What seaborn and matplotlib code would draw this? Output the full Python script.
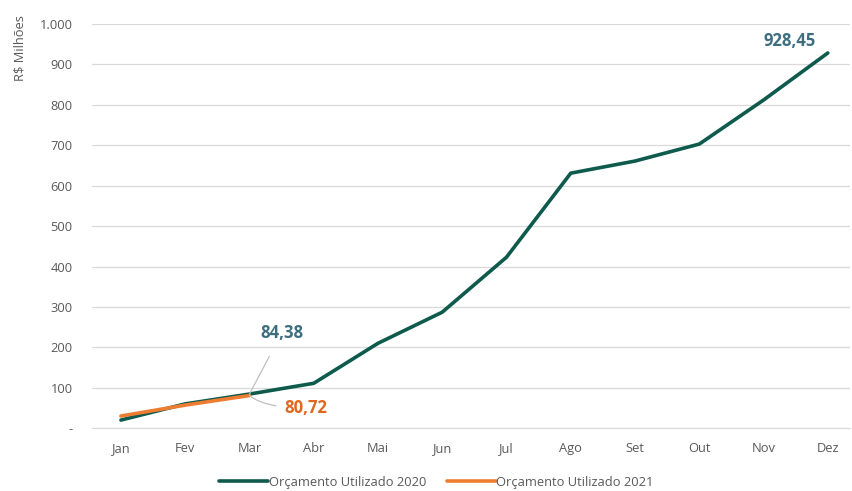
import matplotlib.pyplot as plt
import matplotlib.ticker as mticker
import seaborn as sns
import pandas as pd

meses = ["Jan", "Fev", "Mar", "Abr", "Mai", "Jun", "Jul", "Ago", "Set", "Out", "Nov", "Dez"]
orcamento_2020 = [20, 60, 84.38, 111, 210, 287, 423, 631, 661, 703, 812, 928.45]
meses_2021 = ["Jan", "Fev", "Mar"]
orcamento_2021 = [30, 57, 80.72]

verde = "#0E5A4D"
laranja = "#EE7D31"

sns.set_style("white")
plt.rcParams["font.family"] = ["Open Sans", "DejaVu Sans"]

df20 = pd.DataFrame({"mes": meses, "valor": orcamento_2020})
df21 = pd.DataFrame({"mes": meses_2021, "valor": orcamento_2021})

fig, ax = plt.subplots(figsize=(8.52, 4.91), dpi=100)
fig.subplots_adjust(left=0.108, right=0.998, top=0.951, bottom=0.128)

sns.lineplot(data=df20, x="mes", y="valor", color=verde, linewidth=2.6,
             label="Orçamento Utilizado 2020", ax=ax, sort=False)
sns.lineplot(data=df21, x="mes", y="valor", color=laranja, linewidth=2.6,
             label="Orçamento Utilizado 2021", ax=ax, sort=False)

ax.set_ylim(0, 1000)
ax.set_xlim(-0.45, 11.35)
ax.yaxis.set_major_locator(mticker.MultipleLocator(100))
ax.yaxis.set_major_formatter(mticker.FuncFormatter(
    lambda v, p: "-" if v == 0 else f"{v:,.0f}".replace(",", ".")))
ax.grid(axis="y", color="#D9D9D9", linewidth=0.9)
ax.set_axisbelow(True)
for s in ["top", "right", "left"]:
    ax.spines[s].set_visible(False)
ax.spines["bottom"].set_color("#D9D9D9")
ax.tick_params(axis="both", length=0, labelsize=9.3, colors="#595959")
ax.tick_params(axis="x", pad=10)
ax.tick_params(axis="y", pad=14)
ax.set_xlabel("")
ax.set_ylabel("R$ Milhões", fontsize=9.3, color="#595959")
ax.yaxis.set_label_coords(-0.095, 0.94)
ax.yaxis.label.set_va("center")

# rotulos de dados
ax.annotate("84,38", xy=(2, orcamento_2020[2]), xytext=(2.5, 235),
            fontsize=12, fontweight="bold", color="#3D6E80", ha="center", va="center",
            arrowprops=dict(arrowstyle="-", color="#BFBFBF", lw=0.9, shrinkB=0,
                            shrinkA=9))
ax.annotate("80,72", xy=(2, orcamento_2021[2]), xytext=(2.55, 50),
            fontsize=12, fontweight="bold", color="#E0671F", ha="left", va="center",
            arrowprops=dict(arrowstyle="-", color="#BFBFBF", lw=0.9, shrinkB=0,
                            shrinkA=4, connectionstyle="angle3,angleA=0,angleB=-40"))
ax.annotate("928,45", xy=(11, orcamento_2020[11]), xytext=(10.4, 958),
            fontsize=12, fontweight="bold", color="#3D6E80", ha="center", va="center")

ax.get_legend().remove()
handles, labels = ax.get_legend_handles_labels()
leg = fig.legend(handles, labels, loc="center", bbox_to_anchor=(0.512, 0.018), ncol=2,
                 frameon=False, fontsize=9.3, handlelength=3.8, handletextpad=0.05,
                 columnspacing=1.6)
for t in leg.get_texts():
    t.set_color("#595959")

fig.savefig("out.png", dpi=100)
